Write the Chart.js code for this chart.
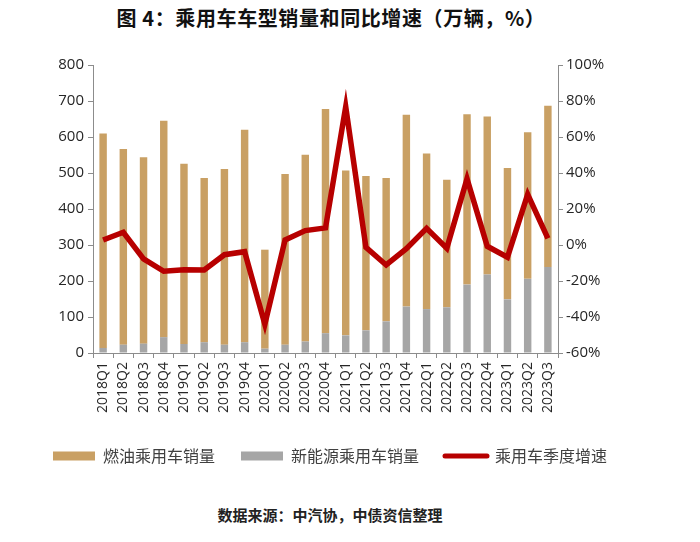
<!DOCTYPE html>
<html>
<head>
<meta charset="utf-8">
<script src="https://cdn.jsdelivr.net/npm/chart.js@4.4.1/dist/chart.umd.min.js"></script>
<style>
    html, body { margin: 0; padding: 0; background: #ffffff; }
    #page { position: relative; width: 700px; height: 542px; overflow: hidden; }
    #title {
        position: absolute; left: 0; top: 3px; width: 662px; text-align: center;
        font-family: "Noto Sans CJK SC", sans-serif; font-weight: bold; font-size: 20px;
        letter-spacing: 0.6px; color: #111;
    }
    #chartBox { position: absolute; left: 0; top: 40px; width: 700px; height: 440px; }
    #source {
        position: absolute; left: 0; top: 504px; width: 660px; text-align: center;
        font-family: "Noto Sans CJK SC", sans-serif; font-weight: bold; font-size: 15px; color: #222;
    }
</style>
</head>
<body>
<div id="page">
    <div id="title">图 4：乘用车车型销量和同比增速（万辆，%）</div>
    <div id="chartBox"><canvas id="salesChart"></canvas></div>
    <div id="source">数据来源：中汽协，中债资信整理</div>
</div>

<script>
// ---------------------------------------------
// DATA (万辆 / %)
// ---------------------------------------------

const quarters = [
    "2018Q1", "2018Q2", "2018Q3", "2018Q4",
    "2019Q1", "2019Q2", "2019Q3", "2019Q4",
    "2020Q1", "2020Q2", "2020Q3", "2020Q4",
    "2021Q1", "2021Q2", "2021Q3", "2021Q4",
    "2022Q1", "2022Q2", "2022Q3", "2022Q4",
    "2023Q1", "2023Q2", "2023Q3"
];

// total passenger car sales (top of each bar)
const totalSales = [
    610, 567, 544, 645,
    526, 486, 511, 620,
    287, 497, 551, 678,
    507, 492, 486, 662,
    554, 481, 663, 657,
    514, 613, 687
];

// new energy passenger car sales (grey part)
const nevSales = [
    14, 23, 26, 44,
    25, 30, 23, 30,
    12, 23, 32, 55,
    49, 63, 88, 129,
    122, 127, 190, 218,
    149, 206, 239
];

// fuel = total - new energy
const fuelSales = totalSales.map((t, i) => t - nevSales[i]);

// quarterly YoY growth (%)
const yoyGrowth = [
    2.8, 7.1, -7.7, -14.6,
    -13.7, -13.9, -5.4, -3.7,
    -44.0, 2.8, 8.0, 9.5,
    76.8, -1.3, -11.1, -2.0,
    9.3, -1.8, 36.8, -0.7,
    -6.8, 28.1, 3.7
];

const leftTicks = { min: 0, max: 800, step: 100 };
const rightTicks = { min: -60, max: 100, step: 20 };

// ---------------------------------------------
// COLOURS / FONTS
// ---------------------------------------------

const FUEL_COLOR = "#C9A064";
const NEV_COLOR  = "#A6A6A6";
const LINE_COLOR = "#B70000";
const AXIS_COLOR = "#8C8C8C";
const TICK_FONT  = "'Open Sans', 'Liberation Sans', sans-serif";

// legend order: fuel, nev, growth line
const legendRank = { 2: 0, 1: 1, 0: 2 };

// ---------------------------------------------
// CHART
// ---------------------------------------------

new Chart(document.getElementById("salesChart"), {

    data: {
        labels: quarters,
        datasets: [
            {
                type: "line",
                label: "乘用车季度增速",
                data: yoyGrowth,
                yAxisID: "yRight",
                borderColor: LINE_COLOR,
                backgroundColor: LINE_COLOR,
                borderWidth: 5.5,
                pointRadius: 0,
                tension: 0,
                borderJoinStyle: "miter"
            },
            {
                type: "bar",
                label: "新能源乘用车销量",
                data: nevSales,
                yAxisID: "yLeft",
                backgroundColor: NEV_COLOR,
                stack: "sales",
                categoryPercentage: 0.8,
                barPercentage: 0.46
            },
            {
                type: "bar",
                label: "燃油乘用车销量",
                data: fuelSales,
                yAxisID: "yLeft",
                backgroundColor: FUEL_COLOR,
                stack: "sales",
                categoryPercentage: 0.8,
                barPercentage: 0.46
            }
        ]
    },

    options: {
        responsive: true,
        maintainAspectRatio: false,
        animation: false,
        layout: { padding: { top: 25, right: 40, left: 0, bottom: 6 } },
        plugins: {
            tooltip: { enabled: false },
            legend: {
                position: "bottom",
                labels: {
                    usePointStyle: true,
                    pointStyleWidth: 42,
                    boxHeight: 9,
                    padding: 26,
                    color: "#404040",
                    font: { family: "'Noto Sans CJK SC', sans-serif", size: 16 },
                    sort: (a, b) => legendRank[a.datasetIndex] - legendRank[b.datasetIndex],
                    generateLabels: chart => chart.data.datasets.map((ds, i) => ({
                        text: ds.label,
                        datasetIndex: i,
                        fillStyle: ds.type === "line" ? LINE_COLOR : ds.backgroundColor,
                        strokeStyle: ds.type === "line" ? LINE_COLOR : ds.backgroundColor,
                        lineWidth: ds.type === "line" ? 5 : 0,
                        lineCap: "round",
                        pointStyle: ds.type === "line" ? "line" : "rect",
                        fontColor: "#404040",
                        hidden: false
                    }))
                }
            }
        },
        scales: {
            x: {
                stacked: true,
                offset: true,
                afterFit: s => { s.height = 69; },
                border: { color: AXIS_COLOR, width: 1 },
                grid: {
                    display: true,
                    drawOnChartArea: false,
                    offset: true,
                    tickLength: 5,
                    color: AXIS_COLOR
                },
                ticks: {
                    autoSkip: false,
                    minRotation: 90,
                    maxRotation: 90,
                    padding: 4,
                    color: "#262626",
                    font: { family: TICK_FONT, size: 14 }
                }
            },
            yLeft: {
                position: "left",
                stacked: true,
                min: leftTicks.min,
                max: leftTicks.max,
                afterFit: s => { s.width = 93; },
                border: { color: AXIS_COLOR, width: 1 },
                grid: { display: true, drawOnChartArea: false, tickLength: 5, color: AXIS_COLOR },
                ticks: {
                    stepSize: leftTicks.step,
                    padding: 4,
                    color: "#262626",
                    font: { family: TICK_FONT, size: 15 }
                }
            },
            yRight: {
                position: "right",
                min: rightTicks.min,
                max: rightTicks.max,
                afterFit: s => { s.width = 102; },
                border: { color: AXIS_COLOR, width: 1 },
                grid: { display: true, drawOnChartArea: false, tickLength: 5, color: AXIS_COLOR },
                ticks: {
                    stepSize: rightTicks.step,
                    padding: 3,
                    color: "#262626",
                    font: { family: TICK_FONT, size: 15 },
                    callback: v => v + "%"
                }
            }
        }
    }

});
</script>
</body>
</html>
